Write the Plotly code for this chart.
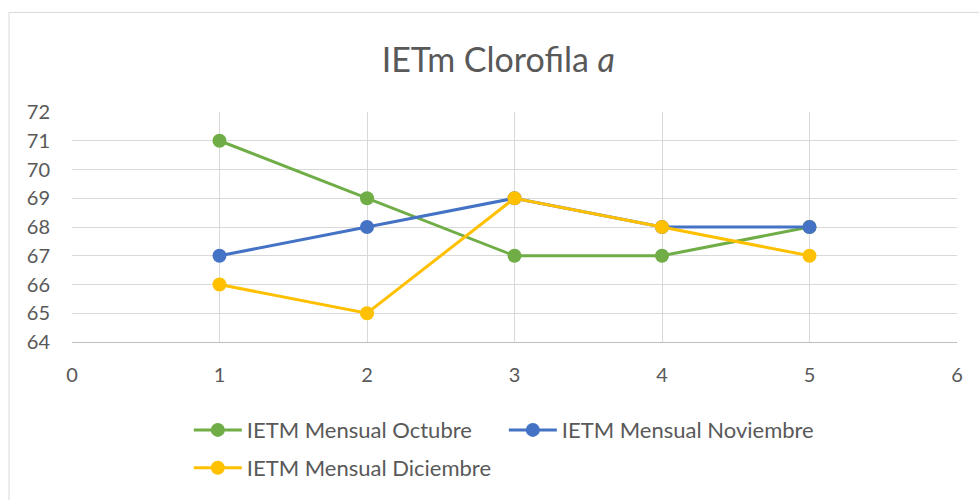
import plotly.graph_objects as go

# Données
x_mois = [1, 2, 3, 4, 5]
ietm_octubre = [71, 69, 67, 67, 68]
ietm_noviembre = [67, 68, 69, 68, 68]
ietm_diciembre = [66, 65, 69, 68, 67]

series = [
    ("IETM Mensual Octubre", ietm_octubre, "#70AD47", "legend"),
    ("IETM Mensual Noviembre", ietm_noviembre, "#4472C4", "legend"),
    ("IETM Mensual Diciembre", ietm_diciembre, "#FFC000", "legend2"),
]

FONT = "Lato, Carlito, Calibri, sans-serif"
GRIS = "#595959"

fig = go.Figure()
for nom, valeurs, couleur, leg in series:
    fig.add_trace(go.Scatter(
        x=x_mois, y=valeurs, name=nom, mode="lines+markers",
        line=dict(color=couleur, width=3),
        marker=dict(color=couleur, size=14),
        legend=leg,
    ))

legende_style = dict(
    orientation="h", xanchor="left", yanchor="middle",
    entrywidth=252, font=dict(size=22, color=GRIS),
    itemwidth=48, bgcolor="rgba(0,0,0,0)",
)

fig.update_layout(
    width=979, height=500,
    margin=dict(l=72, r=22, t=112, b=157),
    plot_bgcolor="white", paper_bgcolor="white",
    font=dict(family=FONT, color=GRIS, size=20),
    title=dict(
        text="IETm Clorofila <i>a</i>",
        font=dict(size=34, color=GRIS, family=FONT),
        x=0.509, xanchor="center", xref="container",
        y=0.88, yanchor="middle",
    ),
    xaxis=dict(
        range=[0, 6], tickvals=[0, 1, 2, 3, 4, 5, 6],
        showgrid=True, gridcolor="#D9D9D9", gridwidth=1,
        showline=True, linecolor="#BFBFBF", linewidth=1,
        zeroline=False, ticks="", automargin=False,
        ticklabelstandoff=15,
        tickfont=dict(size=20, color=GRIS),
    ),
    yaxis=dict(
        range=[64, 72], dtick=1,
        showgrid=True, gridcolor="#D9D9D9", gridwidth=1,
        zeroline=False, ticks="", automargin=False,
        ticklabelstandoff=21,
        tickfont=dict(size=20, color=GRIS),
    ),
    legend=dict(x=0.132, y=-0.377, **legende_style),
    legend2=dict(x=0.132, y=-0.541, **legende_style),
    showlegend=True,
)

# Bordure de la zone du graphique
fig.add_shape(type="rect", xref="paper", yref="paper",
              x0=-0.0712, x1=1.05, y0=-0.75, y1=1.433,
              line=dict(color="#D9D9D9", width=1), layer="below")

fig.write_html("out.html", config={"displayModeBar": False},
               post_script="document.body.style.margin='0';")
